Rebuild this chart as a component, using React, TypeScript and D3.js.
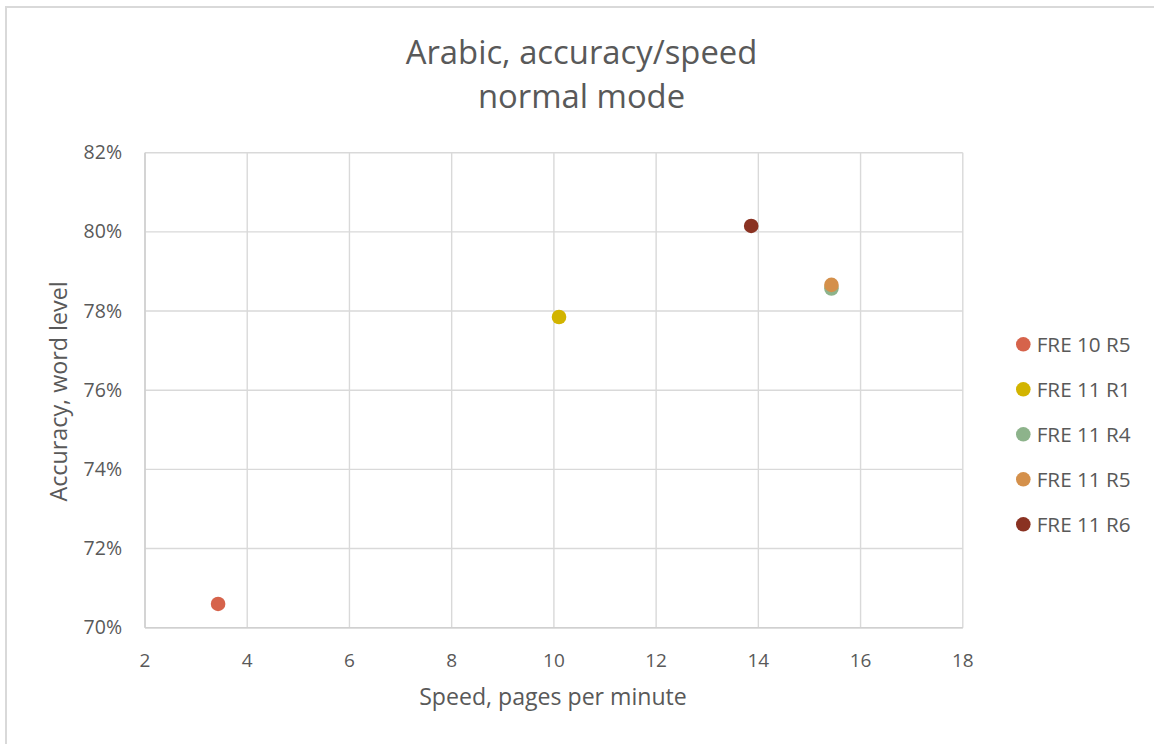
import React from "react";
import * as d3 from "d3";

const seriesNames = ["FRE 10 R5", "FRE 11 R1", "FRE 11 R4", "FRE 11 R5", "FRE 11 R6"];
const speeds = [3.43, 10.1, 15.43, 15.43, 13.86];
const accuracies = [0.706, 0.7785, 0.7857, 0.7866, 0.8015];
const seriesColors = ["#d6634b", "#d2b400", "#8db38b", "#d4904b", "#8a3222"];
const xTicks = [2, 4, 6, 8, 10, 12, 14, 16, 18];
const yTicks = [0.7, 0.72, 0.74, 0.76, 0.78, 0.8, 0.82];
const titleLines = ["Arabic, accuracy/speed", "normal mode"];
const xTitle = "Speed, pages per minute";
const yTitle = "Accuracy, word level";

const W = 1154;
const H = 744;
const plot = { left: 145, right: 962.8, top: 152.7, bottom: 627.7 };
const FONT = "'Open Sans', Lato, sans-serif";
const TEXT = "#595959";
const GRID = "#d9d9d9";

export default function App() {
  const x = d3.scaleLinear().domain([2, 18]).range([plot.left, plot.right]);
  const y = d3.scaleLinear().domain([0.7, 0.82]).range([plot.bottom, plot.top]);
  const fmt = d3.format(".0%");

  return (
    <svg
      width={W}
      height={H}
      style={{ position: "fixed", left: 0, top: 0, background: "#fff" }}
      fontFamily={FONT}
    >
      <rect x={0} y={0} width={W} height={H} fill="#fff" />
      <rect x={6} y={7} width={W + 20} height={H + 20} fill="none" stroke={GRID} strokeWidth={2} />

      {titleLines.map((t, i) => (
        <text key={t} x={581.5} y={64 + i * 44} textAnchor="middle" fontSize={32.8} fill={TEXT}>
          {t}
        </text>
      ))}

      {xTicks.map((v) => (
        <line key={"gx" + v} x1={x(v)} x2={x(v)} y1={plot.top} y2={plot.bottom} stroke={GRID} strokeWidth={1.4} />
      ))}
      {yTicks.map((v) => (
        <line key={"gy" + v} x1={plot.left} x2={plot.right} y1={y(v)} y2={y(v)} stroke={GRID} strokeWidth={1.4} />
      ))}
      <line x1={plot.left} x2={plot.right} y1={plot.bottom} y2={plot.bottom} stroke="#d0d0d0" strokeWidth={1.6} />
      <line x1={plot.left} x2={plot.left} y1={plot.top} y2={plot.bottom} stroke="#d0d0d0" strokeWidth={1.6} />

      {xTicks.map((v) => (
        <text key={"tx" + v} x={x(v)} y={667} textAnchor="middle" fontSize={19} fill={TEXT}>
          {v}
        </text>
      ))}
      {yTicks.map((v) => (
        <text key={"ty" + v} x={122} y={y(v) + 6.6} textAnchor="end" fontSize={19.5} fill={TEXT}>
          {fmt(v)}
        </text>
      ))}

      <text x={553} y={705} textAnchor="middle" fontSize={23.1} fill={TEXT}>
        {xTitle}
      </text>
      <text
        transform={`translate(67,391.5) rotate(-90)`}
        textAnchor="middle"
        fontSize={23.3}
        fill={TEXT}
      >
        {yTitle}
      </text>

      {seriesNames.map((n, i) => (
        <circle key={"p" + n} cx={x(speeds[i])} cy={y(accuracies[i])} r={7.3} fill={seriesColors[i]} />
      ))}

      {seriesNames.map((n, i) => (
        <g key={"l" + n} transform={`translate(0,${344.3 + i * 45})`}>
          <circle cx={1023.3} cy={0} r={7.3} fill={seriesColors[i]} />
          <text x={1036.7} y={7.7} fontSize={20.7} fill={TEXT}>
            {n}
          </text>
        </g>
      ))}
    </svg>
  );
}
